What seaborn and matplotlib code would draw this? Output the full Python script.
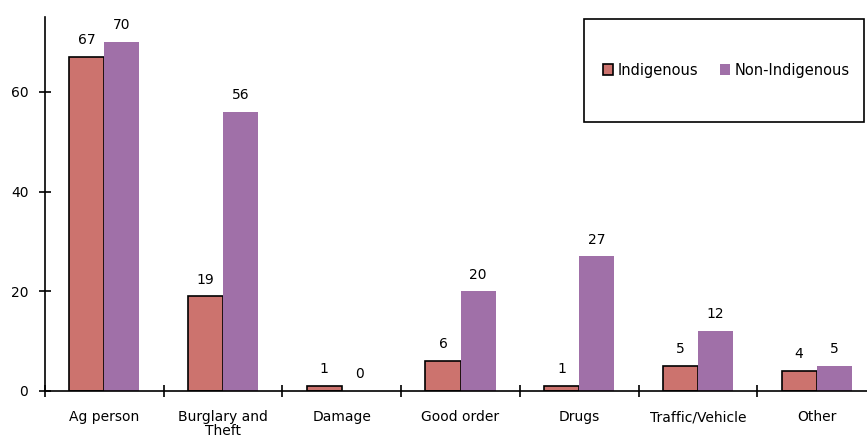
import pandas as pd
import seaborn as sns
import matplotlib.pyplot as plt
from matplotlib.patches import Rectangle, Patch

categories = ["Ag person", "Burglary and\nTheft", "Damage", "Good order",
              "Drugs", "Traffic/Vehicle", "Other"]
indigenous = [67, 19, 1, 6, 1, 5, 4]
non_indigenous = [70, 56, 0, 20, 27, 12, 5]
indigenous_labels = ["67", "19", "1", "6", "1", "5", "4"]
non_indigenous_labels = ["70", "56", "0", "20", "27", "12", "5"]
series = ["Indigenous", "Non-Indigenous"]

red = "#CC736E"
purple = "#A070A8"

df = pd.DataFrame({
    "category": categories * 2,
    "group": [series[0]] * len(categories) + [series[1]] * len(categories),
    "value": indigenous + non_indigenous,
})

sns.set_style("white")
plt.rcParams["font.family"] = ["DejaVu Sans"]
plt.rcParams["text.color"] = "black"
plt.rcParams["xtick.color"] = "black"
plt.rcParams["ytick.color"] = "black"

fig = plt.figure(figsize=(8.67, 4.41), dpi=100)
ax = fig.add_axes([45 / 867, 50 / 441, 831 / 867, 374 / 441])

sns.barplot(data=df, x="category", y="value", hue="group", order=categories,
            hue_order=series, palette=[red, purple], width=0.59, gap=0,
            saturation=1, legend=False, ax=ax)

# red bars get a black outline, purple bars none
for bar in ax.containers[0]:
    bar.set_edgecolor("black")
    bar.set_linewidth(1.2)
for bar in ax.containers[1]:
    bar.set_edgecolor("none")

ax.bar_label(ax.containers[0], labels=indigenous_labels, padding=7, fontsize=10, color="black")
ax.bar_label(ax.containers[1], labels=non_indigenous_labels, padding=7, fontsize=10, color="black")

ax.set_xlim(-0.5, len(categories) - 0.5)
ax.set_ylim(0, 75)
ax.set_yticks([0, 20, 40, 60])
ax.set_xlabel("")
ax.set_ylabel("")

# ticks between categories, crossing the axis line
ax.set_xticks([i + 0.5 for i in range(-1, len(categories))], minor=True)
ax.tick_params(axis="x", which="major", length=0, pad=14, labelsize=10, labelcolor="black")
for lab in ax.get_xticklabels():
    lab.set_linespacing(1.0)
ax.tick_params(axis="x", which="minor", bottom=True, direction="inout", length=8,
               width=1.2, color="black")
ax.tick_params(axis="y", which="major", left=True, direction="inout", length=8,
               width=1.2, color="black", pad=8, labelsize=10, labelcolor="black")

sns.despine(ax=ax, top=True, right=True)
for side in ["left", "bottom"]:
    ax.spines[side].set_color("black")
    ax.spines[side].set_linewidth(1.2)

# legend box
box = Rectangle((584 / 867, 1 - 122 / 441), 280 / 867, 103 / 441, transform=fig.transFigure,
                facecolor="white", edgecolor="black", linewidth=1.2, zorder=5)
fig.patches.append(box)
handles = [Patch(facecolor=red, edgecolor="black", linewidth=1.2),
           Patch(facecolor=purple, edgecolor="none")]
fig.legend(handles, series, loc="center", bbox_to_anchor=(726 / 867, 1 - 70 / 441),
           ncol=2, frameon=False, fontsize=10.5, handlelength=0.7, handleheight=0.7,
           handletextpad=0.3, columnspacing=1.5)

fig.savefig("out.png", dpi=100)
